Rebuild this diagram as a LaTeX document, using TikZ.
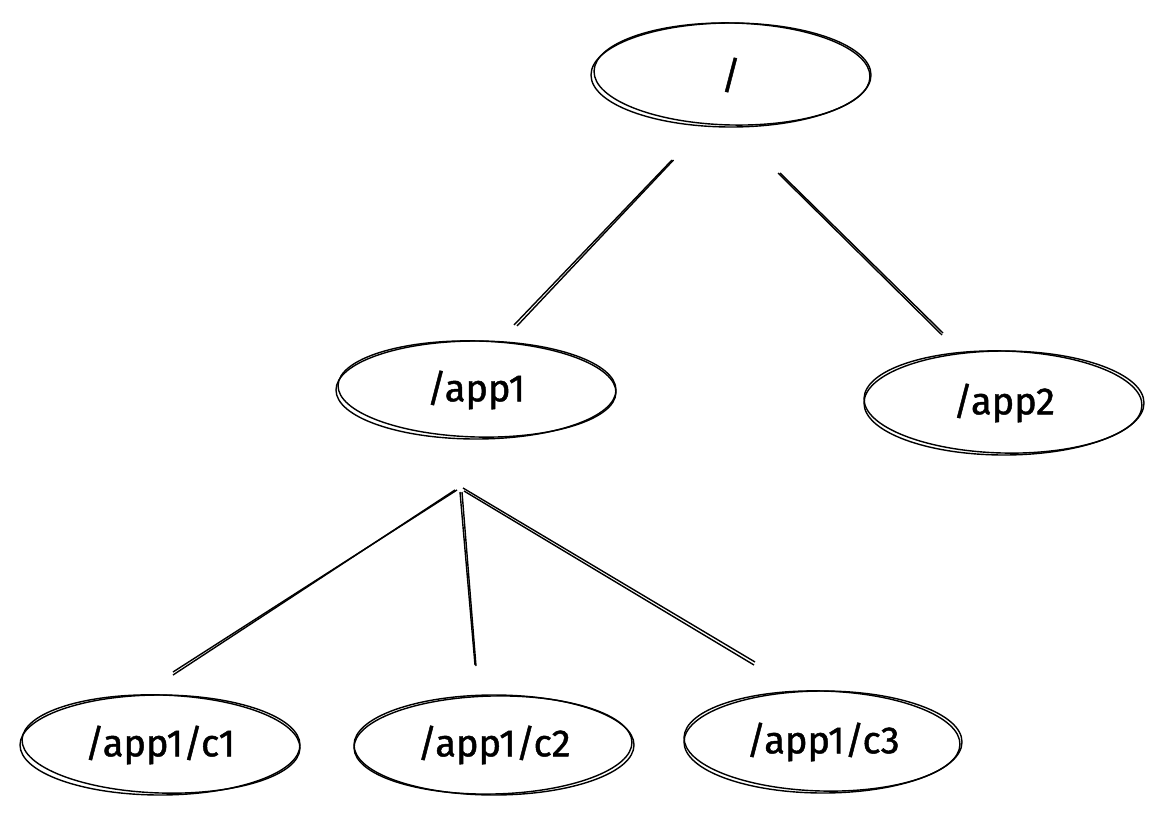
\documentclass[tikz,border=0pt]{standalone}
\usepackage{fontspec}
\setmainfont{Fira Sans}[FakeBold=1.2]
\usetikzlibrary{shapes.geometric}
\tikzset{
  sk/.style={line width=1.4pt, black},
  tnode/.style={ellipse, draw, sk, minimum width=#1, minimum height=100pt, inner sep=0pt, font=\fontsize{38}{44}\selectfont},
  tnode/.default=280pt,
}
\newcommand{\skell}[5]{% center x, y, rx, ry, rotation
  \draw[sk, rotate around={#5:(#1,#2)}] (#1,#2) ellipse[x radius=#3, y radius=#4];}
\begin{document}
\begin{tikzpicture}[x=1pt,y=-1pt]
\useasboundingbox (0,0) rectangle (1165,829);
% nodes
\node[tnode, minimum height=104pt] (root) at (731,75) {\raisebox{-3pt}{/}};
\node[tnode, minimum height=98pt] (app1) at (476,390) {\raisebox{-4pt}{/app1}};
\node[tnode, minimum height=104pt] (app2) at (1004,403) {\raisebox{-4pt}{/app2}};
\node[tnode] (c1) at (160,745) {\raisebox{-4pt}{/app1/c1}};
\node[tnode] (c2) at (494,745) {\raisebox{-2pt}{/app1/c2}};
\node[tnode, minimum width=278pt, minimum height=102pt] (c3) at (823,742) {\raisebox{-2pt}{/app1/c3}};
% sketchy second strokes
\skell{732}{74}{138}{51}{-1.2}
\skell{477}{389}{139}{48}{-1.5}
\skell{1003}{402}{139}{51}{-1.5}
\skell{161}{744}{139}{49}{-1.8}
\skell{493}{745}{139}{49}{1.2}
\skell{822}{741}{138}{50}{-1.5}
% connector end points
\coordinate (r1) at (672,160); \coordinate (a1) at (514,325);
\coordinate (r2) at (780,173); \coordinate (a2) at (943,333);
\coordinate (p1) at (455,490); \coordinate (q1) at (173,675);
\coordinate (p2) at (460,492); \coordinate (q2) at (475,665);
\coordinate (p3) at (463,488); \coordinate (q3) at (755,662);
% connectors (double stroke)
\draw[sk] (r1) -- (a1);
\draw[sk] ([xshift=1.5pt]r1) -- ([xshift=3pt,yshift=-1pt]a1);
\draw[sk] (r2) -- (a2);
\draw[sk] ([xshift=-2pt]r2) -- ([xshift=-1pt,yshift=-2pt]a2);
\draw[sk] (p1) -- (q1);
\draw[sk] ([xshift=2pt]p1) -- ([yshift=3pt]q1);
\draw[sk] (p2) -- (q2);
\draw[sk] ([xshift=2pt]p2) -- ([xshift=1pt,yshift=-1pt]q2);
\draw[sk] (p3) -- (q3);
\draw[sk] ([xshift=1pt,yshift=-3pt]p3) -- ([xshift=-1pt,yshift=-3pt]q3);
\end{tikzpicture}
\end{document}
